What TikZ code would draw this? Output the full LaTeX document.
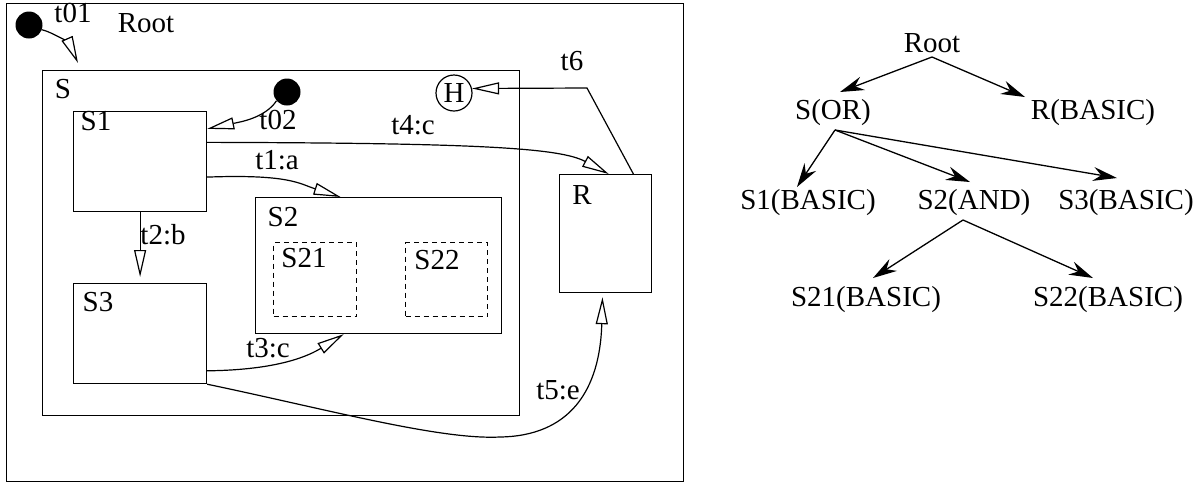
\documentclass[tikz,border=0pt]{standalone}
\usepackage{fontspec}
\setmainfont{Liberation Serif}
\usetikzlibrary{arrows.meta}
\begin{document}
\begin{tikzpicture}[x=1pt,y=-1pt,
  font=\fontsize{29}{33}\selectfont,
  box/.style={draw,line width=1.2pt,inner sep=0pt,anchor=north west},
  dbox/.style={box,dashed,dash pattern=on 5pt off 4pt},
  lbl/.style={inner sep=0pt,anchor=center},
  initdot/.style={circle,fill=black,minimum size=27pt,inner sep=0pt},
  trans/.style={line width=1.2pt,-{Triangle[length=27pt,width=12pt,fill=white,line width=1.2pt]}},
  tnode/.style={inner sep=3pt,anchor=center},
  tedge/.style={line width=1.3pt,-{Stealth[length=24pt,width=14pt,inset=8pt]}}]
\useasboundingbox (0,0) rectangle (1203,483);
% boxes
\node[box,minimum width=677pt,minimum height=478pt] (rootbox) at (6,3) {};
\node[box,minimum width=477pt,minimum height=345pt] (Sbox) at (42,70) {};
\node[box,minimum width=133pt,minimum height=100pt] (S1) at (73,111) {};
\node[box,minimum width=133pt,minimum height=100pt] (S3) at (73,283) {};
\node[box,minimum width=246pt,minimum height=136pt] (S2) at (255,197) {};
\node[dbox,minimum width=83pt,minimum height=74pt] (S21) at (273,242) {};
\node[dbox,minimum width=82pt,minimum height=74pt] (S22) at (405,242) {};
\node[box,minimum width=92pt,minimum height=118pt] (R) at (559,174) {};
\node[draw,circle,line width=1.2pt,minimum size=36pt,inner sep=0pt] (H) at (454,93) {H};
\node[initdot] (i1) at (29,25) {};
\node[initdot] (i2) at (287,92) {};
\coordinate (t01end) at (78,63);
% labels
\node[lbl] (lt01) at (73,13) {t01};
\node[lbl] (lRoot) at (146,23) {Root};
\node[lbl] (lS) at (63,89) {S};
\node[lbl] (lS1) at (96,121) {S1};
\node[lbl] (lt02) at (278,120) {t02};
\node[lbl] (lt4) at (413,125) {t4:c};
\node[lbl] (lt1) at (277,160) {t1:a};
\node[lbl] (lt6) at (572,61) {t6};
\node[lbl] (lt2) at (163,235) {t2:b};
\node[lbl] (lS2) at (283,217) {S2};
\node[lbl] (lS21) at (304,258) {S21};
\node[lbl] (lS22) at (437,260) {S22};
\node[lbl] (lS3) at (98,302) {S3};
\node[lbl] (lt3) at (268,348) {t3:c};
\node[lbl] (lt5) at (558,390) {t5:e};
\node[lbl] (lR) at (582,195) {R};
% transitions
\draw[trans] (i1.-20) .. controls (55,33) and (70,45) .. (t01end);
\draw[trans] (i2.-140) .. controls (265,118) and (240,122) .. (S1.26);
\draw[trans] (S1.-13) .. controls (290,174) and (300,184) .. (S2.119);
\draw[trans] (S1.16) .. controls (480,143) and (560,148) .. (R.87);
\draw[trans] (R.65) -- (587,88) -- (H.14);
\draw[trans] (S1.south) -- ([yshift=6pt]S3.north);
\draw[trans] (S3.-29) .. controls (280,370) and (310,355) .. (S2.-117);
\draw[trans] (S3.south east) .. controls (330,410) and (440,440) .. (500,437)
  .. controls (570,436) and (600,390) .. ([yshift=-4pt]R.-93);
% tree
\node[tnode] (tRoot) at (932,43) {Root};
\node[tnode] (tS) at (833,113) {S(OR)};
\node[tnode] (tR) at (1093,113) {R(BASIC)};
\node[tnode] (tS1) at (808,203) {S1(BASIC)};
\node[tnode] (tS2) at (974,203) {S2(AND)};
\node[tnode] (tS3) at (1126,203) {S3(BASIC)};
\node[tnode] (tS21) at (866,300) {S21(BASIC)};
\node[tnode] (tS22) at (1108,300) {S22(BASIC)};
\coordinate (rootb) at (932,57);
\coordinate (sb) at (835,130);
\coordinate (s2b) at (963,220);
\draw[tedge] (rootb) -- (840,92);
\draw[tedge] (rootb) -- (1025,97);
\draw[tedge] (sb) -- (797,187);
\draw[tedge] (sb) -- (970,182);
\draw[tedge] (sb) -- (1117,178);
\draw[tedge] (s2b) -- (873,278);
\draw[tedge] (s2b) -- (1093,278);
\end{tikzpicture}
\end{document}
